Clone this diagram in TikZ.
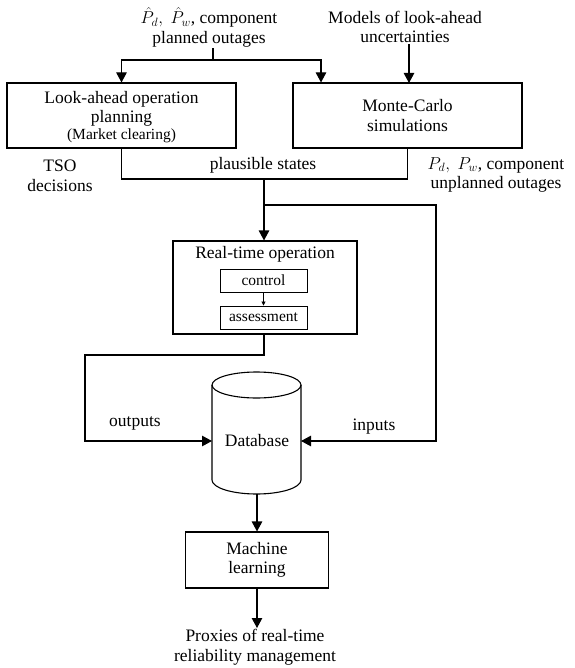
\documentclass[tikz,border=0pt]{standalone}
\usepackage{fontspec}
\setmainfont{Liberation Serif}
\usetikzlibrary{arrows.meta}
\begin{document}
\begin{tikzpicture}[x=1pt,y=-1pt,
  every node/.style={font=\fontsize{17.5}{19.5}\selectfont, align=center, inner sep=1pt},
  box/.style={draw, line width=1.1pt, inner sep=0pt},
  smallbox/.style={draw, line width=0.9pt, inner sep=0pt, minimum width=87pt, minimum height=23pt, font=\fontsize{15.5}{17}\selectfont},
  line/.style={line width=1.1pt},
  arr/.style={line width=1.1pt, -{Triangle[length=10pt,width=10.5pt]}},
  sarr/.style={line width=0.8pt, -{Triangle[length=4pt,width=4pt]}}
]
\useasboundingbox (0,0) rectangle (574,668);

% top inputs
\node (po) at (209,27) {$\hat{P}_d,\;\hat{P}_w$, component\\planned outages};
\node (mu) at (405,27) {Models of look-ahead\\uncertainties};

% planning boxes
\node[box, minimum width=229pt, minimum height=65pt] (lap) at (121.5,115.5) {};
\node (lapt) at (121.5,117) {Look-ahead operation\\planning\\[-3pt]{\fontsize{15.5}{17}\selectfont (Market clearing)}};
\node[box, minimum width=229pt, minimum height=65pt] (mc) at (407.5,115.5) {Monte-Carlo\\simulations};

\coordinate (j1) at (213,60);
\draw[line] (j1 |- po.south) -- (j1);
\draw[arr] (j1) -| (lap.north);
\draw[arr] (j1) -| ([xshift=-86.5pt]mc.north);
\draw[arr] (mu.south -| 409,0) -- (409,83);

% side labels
\node (tso) at (60,176) {TSO\\decisions};
\node (ps) at (263,165) {plausible states};
\node (pw) at (496,175) {$P_d,\;P_w$, component\\unplanned outages};

\coordinate (j2) at (264,179);
\draw[line] (lap.south) |- (j2);
\draw[line] (mc.south) |- (j2);

% real-time operation
\node[box, minimum width=184pt, minimum height=93pt] (rt) at (265,287.5) {};
\node (rtl) at (265,254) {Real-time operation};
\node[smallbox] (ctrl) at (263.5,280.5) {control};
\node[smallbox] (asm) at (263.5,317.5) {assessment};
\draw[sarr] (ctrl.south) -- (asm.north);

\coordinate (j3) at (264,205);
\draw[arr] (j2) -- (j3) -- (j3 |- rt.north);

% database
\node (db) at (257,441) {Database};
\draw[line] (212,385) -- (212,480) arc[start angle=180, end angle=360, x radius=44.5pt, y radius=14pt] -- (301,385);
\draw[line] (256.5,385) ellipse[x radius=44.5pt, y radius=13pt];
\coordinate (dbw) at (212,441);
\coordinate (dbe) at (301,441);
\coordinate (dbs) at (257,494);

\coordinate (c1) at (264,355);
\coordinate (c2) at (85,355);
\draw[arr] (rt.south -| c1) -- (c1) -- (c2) |- (dbw);
\coordinate (c3) at (436,205);
\draw[arr] (j3) -- (c3) |- (dbe);

\node (out) at (135,423) {outputs};
\node (in) at (374,427) {inputs};

% machine learning
\node[box, minimum width=143pt, minimum height=56pt] (ml) at (257,560) {Machine\\learning};
\draw[arr] (dbs) -- (dbs |- ml.north);
\node (prox) at (255,647) {Proxies of real-time\\reliability management};
\draw[arr] (ml.south) -- (ml.south |- prox.north);
\end{tikzpicture}
\end{document}
